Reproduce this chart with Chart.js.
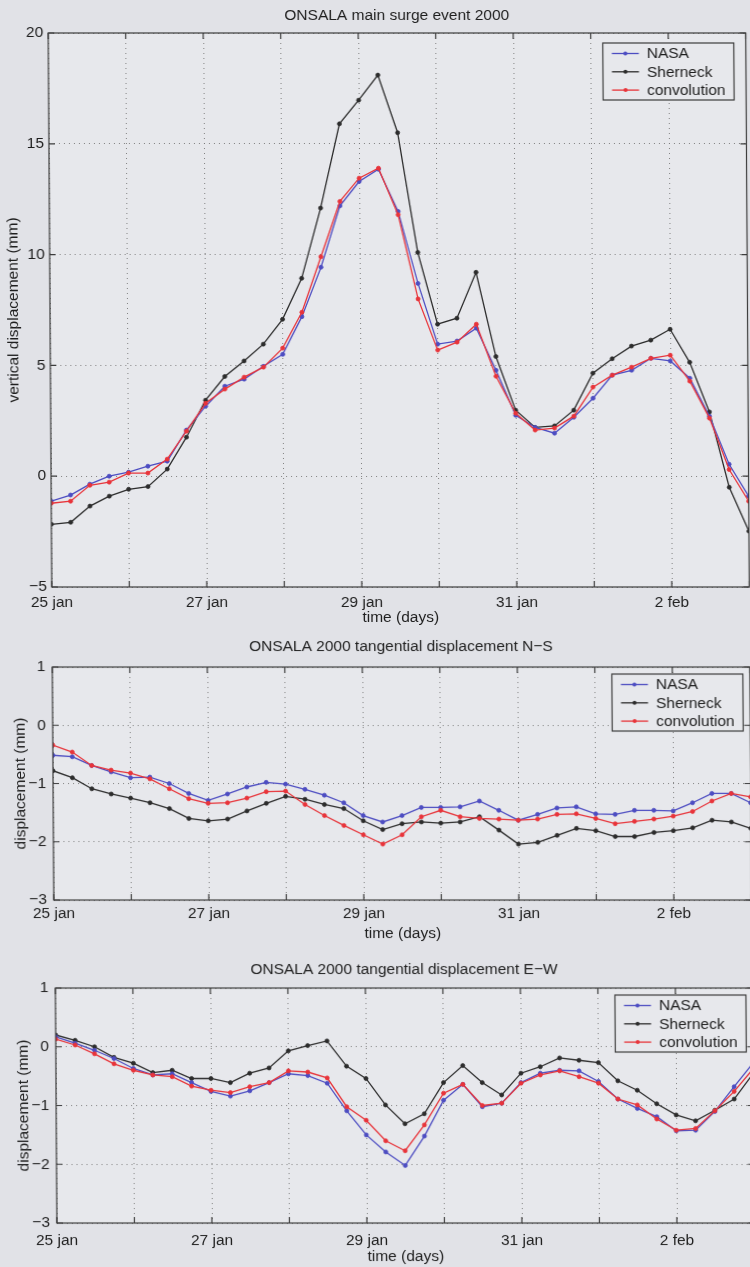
<!DOCTYPE html>
<html>
<head>
<meta charset="utf-8">
<script src="https://cdn.jsdelivr.net/npm/chart.js@4.4.1/dist/chart.umd.min.js"></script>
<style>
  html, body { margin: 0; padding: 0; width: 750px; height: 1267px; overflow: hidden; background: #e1e2e7; }
  #page { position: absolute; left: 0; top: 0; width: 760px; height: 1267px;
          transform: skewX(0.37deg); transform-origin: 0 310px; }
  #page canvas { position: absolute; left: 0; }
</style>
</head>
<body>
<div id="page">
  <canvas id="vertical" width="760" height="640" style="top:0px"></canvas>
  <canvas id="northSouth" width="760" height="320" style="top:630px"></canvas>
  <canvas id="eastWest" width="760" height="317" style="top:950px"></canvas>
</div>
<script>
// ---- sampling times: days after 25 jan 2000, 00h, every 6 hours ----
const sampleDays = [0, 0.25, 0.5, 0.75, 1, 1.25, 1.5, 1.75, 2, 2.25, 2.5, 2.75, 3, 3.25, 3.5, 3.75,
  4, 4.25, 4.5, 4.75, 5, 5.25, 5.5, 5.75, 6, 6.25, 6.5, 6.75, 7, 7.25, 7.5, 7.75, 8, 8.25, 8.5, 8.75, 9];

// ---- x tick labels (every second day) ----
const dayTickValues = [0, 2, 4, 6, 8];
const dayTickLabels = ['25 jan', '27 jan', '29 jan', '31 jan', '2 feb'];

const seriesNames = ['NASA', 'Sherneck', 'convolution'];

// ---- vertical displacement (mm) ----
const verticalNasa = [-1.13, -0.85, -0.36, 0.0, 0.18, 0.45, 0.68, 2.08, 3.16, 4.06, 4.38, 4.96, 5.5, 7.2, 9.43,
  12.2, 13.3, 13.85, 11.95, 8.7, 5.96, 6.1, 6.68, 4.78, 2.75, 2.2, 1.94, 2.66, 3.52, 4.56, 4.78, 5.32, 5.2,
  4.42, 2.7, 0.54, -0.9];
const verticalSherneck = [-2.17, -2.08, -1.35, -0.9, -0.59, -0.47, 0.32, 1.76, 3.43, 4.5, 5.2, 5.96, 7.08, 8.93,
  12.1, 15.9, 16.97, 18.1, 15.5, 10.1, 6.86, 7.13, 9.2, 5.4, 2.98, 2.2, 2.27, 2.98, 4.65, 5.3, 5.87, 6.14,
  6.63, 5.14, 2.9, -0.5, -2.48];
const verticalConvolution = [-1.22, -1.13, -0.41, -0.27, 0.14, 0.14, 0.77, 2.03, 3.29, 3.93, 4.47, 4.92, 5.78,
  7.4, 9.9, 12.4, 13.45, 13.9, 11.8, 8.0, 5.69, 6.05, 6.86, 4.51, 2.84, 2.08, 2.17, 2.71, 4.02, 4.56, 4.92,
  5.32, 5.46, 4.29, 2.62, 0.3, -1.13];
const verticalTicks = [-5, 0, 5, 10, 15, 20];

// ---- tangential displacement N-S (mm) ----
const nsNasa = [-0.515, -0.54, -0.69, -0.8, -0.9, -0.89, -1.0, -1.17, -1.29, -1.18, -1.06, -0.98, -1.01, -1.1,
  -1.2, -1.33, -1.55, -1.66, -1.55, -1.41, -1.41, -1.4, -1.3, -1.46, -1.63, -1.53, -1.42, -1.4, -1.52, -1.53,
  -1.46, -1.46, -1.47, -1.33, -1.17, -1.17, -1.33];
const nsSherneck = [-0.78, -0.9, -1.09, -1.18, -1.25, -1.33, -1.43, -1.6, -1.64, -1.61, -1.47, -1.34, -1.22,
  -1.27, -1.36, -1.43, -1.64, -1.79, -1.69, -1.66, -1.68, -1.66, -1.57, -1.8, -2.04, -2.01, -1.89, -1.77,
  -1.81, -1.91, -1.91, -1.84, -1.81, -1.76, -1.63, -1.66, -1.77];
const nsConvolution = [-0.34, -0.46, -0.69, -0.77, -0.82, -0.92, -1.09, -1.26, -1.34, -1.33, -1.25, -1.14,
  -1.13, -1.36, -1.55, -1.72, -1.88, -2.04, -1.88, -1.57, -1.46, -1.57, -1.6, -1.61, -1.63, -1.61, -1.53,
  -1.52, -1.6, -1.69, -1.65, -1.61, -1.56, -1.48, -1.3, -1.17, -1.23];

// ---- tangential displacement E-W (mm) ----
const ewNasa = [0.17, 0.06, -0.06, -0.2, -0.37, -0.48, -0.46, -0.61, -0.76, -0.84, -0.75, -0.61, -0.46, -0.49,
  -0.62, -1.09, -1.5, -1.79, -2.02, -1.52, -0.91, -0.64, -1.02, -0.96, -0.61, -0.45, -0.4, -0.41, -0.59,
  -0.89, -1.05, -1.19, -1.43, -1.42, -1.1, -0.68, -0.27];
const ewSherneck = [0.2, 0.11, 0.0, -0.18, -0.28, -0.44, -0.4, -0.54, -0.54, -0.61, -0.45, -0.36, -0.07, 0.02,
  0.1, -0.33, -0.54, -0.99, -1.31, -1.14, -0.61, -0.32, -0.61, -0.82, -0.45, -0.34, -0.19, -0.23, -0.27,
  -0.58, -0.74, -0.97, -1.16, -1.26, -1.08, -0.89, -0.45];
const ewConvolution = [0.13, 0.03, -0.12, -0.29, -0.4, -0.48, -0.51, -0.67, -0.74, -0.78, -0.68, -0.61, -0.41,
  -0.43, -0.53, -1.02, -1.25, -1.6, -1.77, -1.33, -0.79, -0.64, -1.0, -0.96, -0.62, -0.48, -0.41, -0.51,
  -0.62, -0.89, -0.99, -1.23, -1.42, -1.39, -1.09, -0.76, -0.37];
const tangentialTicks = [-3, -2, -1, 0, 1];

// ---- styling ----
const FONT_FAMILY = '"Liberation Sans", Arial, Helvetica, sans-serif';
const FONT_SIZE = 15.5;
const TEXT_COLOR = '#1e1e1e';
const AXIS_COLOR = '#3c3c3c';
const GRID_COLOR = 'rgba(110,110,110,0.85)';
const PLOT_BG = '#e7e8ec';
const SERIES_COLORS = ['#4d4dc2', '#2c2c2c', '#e8343a'];
const SERIES_ORDER = [1, 2, 0];   // convolution on top, Sherneck underneath
const TICK_LEN = 6;
const LEGEND_W = 131;
const LEGEND_H = 57;

Chart.defaults.font.family = FONT_FAMILY;
Chart.defaults.font.size = FONT_SIZE;
Chart.defaults.color = TEXT_COLOR;

// Frame, inward tick marks, title and boxed legend in the style of a MATLAB axes
const matlabAxes = {
  id: 'matlabAxes',
  beforeDraw(chart) {
    const { ctx, chartArea: a } = chart;
    ctx.save();
    ctx.fillStyle = PLOT_BG;
    ctx.fillRect(a.left, a.top, a.width, a.height);
    ctx.restore();
  },
  afterDraw(chart, args, o) {
    const { ctx, chartArea: a } = chart;
    const xs = chart.scales.x, ys = chart.scales.y;
    ctx.save();
    ctx.strokeStyle = AXIS_COLOR;
    ctx.lineWidth = 1.2;
    ctx.strokeRect(a.left, a.top, a.width, a.height);
    ctx.beginPath();
    xs.ticks.forEach(t => {
      const px = xs.getPixelForValue(t.value);
      ctx.moveTo(px, a.bottom); ctx.lineTo(px, a.bottom - TICK_LEN);
      ctx.moveTo(px, a.top); ctx.lineTo(px, a.top + TICK_LEN);
    });
    ys.ticks.forEach(t => {
      const py = ys.getPixelForValue(t.value);
      ctx.moveTo(a.left, py); ctx.lineTo(a.left + TICK_LEN, py);
      ctx.moveTo(a.right, py); ctx.lineTo(a.right - TICK_LEN, py);
    });
    ctx.stroke();

    // title
    ctx.fillStyle = TEXT_COLOR;
    ctx.font = FONT_SIZE + 'px ' + FONT_FAMILY;
    ctx.textAlign = 'center';
    ctx.textBaseline = 'middle';
    ctx.fillText(o.title, (a.left + a.right) / 2, a.top - o.titleGap);

    // legend
    const bx = a.right - o.legendRight - LEGEND_W;
    const by = a.top + o.legendTop;
    ctx.fillStyle = PLOT_BG;
    ctx.fillRect(bx, by, LEGEND_W, LEGEND_H);
    ctx.strokeStyle = AXIS_COLOR;
    ctx.lineWidth = 1.2;
    ctx.strokeRect(bx, by, LEGEND_W, LEGEND_H);
    ctx.textAlign = 'left';
    chart.data.datasets.forEach((ds, i) => {
      const ry = by + 10.5 + i * 18.3;
      ctx.strokeStyle = ds.borderColor;
      ctx.lineWidth = ds.borderWidth;
      ctx.beginPath();
      ctx.moveTo(bx + 9, ry); ctx.lineTo(bx + 36, ry);
      ctx.stroke();
      ctx.fillStyle = ds.borderColor;
      ctx.beginPath();
      ctx.arc(bx + 22.5, ry, 2, 0, Math.PI * 2);
      ctx.fill();
      ctx.fillStyle = TEXT_COLOR;
      ctx.fillText(ds.label, bx + 44, ry + 0.5);
    });
    ctx.restore();
  }
};

function seriesDatasets(values) {
  return values.map((vals, i) => ({
    label: seriesNames[i],
    data: vals.map((v, k) => ({ x: sampleDays[k], y: v })),
    borderColor: SERIES_COLORS[i],
    backgroundColor: SERIES_COLORS[i],
    pointBackgroundColor: SERIES_COLORS[i],
    pointBorderColor: SERIES_COLORS[i],
    borderWidth: 1.3,
    pointRadius: 2,
    pointBorderWidth: 0.8,
    tension: 0,
    order: SERIES_ORDER[i]
  }));
}

function minusLabel(v) {
  return v < 0 ? '\u2212' + Math.abs(v) : String(v);
}

function buildChart(id, spec) {
  const canvas = document.getElementById(id);
  const H = canvas.height, W = canvas.width;
  return new Chart(canvas, {
    type: 'line',
    data: { datasets: seriesDatasets(spec.series) },
    options: {
      responsive: false,
      animation: false,
      devicePixelRatio: 1,
      layout: { padding: { top: spec.plotTop, left: 0, right: W - spec.plotRight, bottom: 0 } },
      plugins: {
        legend: { display: false },
        tooltip: { enabled: false },
        title: { display: false },
        matlabAxes: {
          title: spec.title, titleGap: spec.titleGap,
          legendRight: spec.legendRight, legendTop: spec.legendTop
        }
      },
      scales: {
        x: {
          type: 'linear',
          min: sampleDays[0],
          max: sampleDays[sampleDays.length - 1],
          afterBuildTicks: s => { s.ticks = sampleDays.filter(d => Number.isInteger(d)).map(v => ({ value: v })); },
          afterFit: s => { s.height = H - spec.plotBottom; },
          grid: { color: GRID_COLOR, lineWidth: 1, drawTicks: false },
          border: { display: false, dash: [1, 4] },
          ticks: {
            autoSkip: false, maxRotation: 0, padding: spec.xTickPad, color: TEXT_COLOR,
            callback: v => { const k = dayTickValues.indexOf(v); return k >= 0 ? dayTickLabels[k] : ''; }
          },
          title: {
            display: true, text: 'time (days)', color: TEXT_COLOR,
            padding: { top: 0, bottom: spec.xTitlePad }
          }
        },
        y: {
          type: 'linear',
          min: spec.yTicks[0],
          max: spec.yTicks[spec.yTicks.length - 1],
          afterBuildTicks: s => { s.ticks = spec.yTicks.map(v => ({ value: v })); },
          afterFit: s => { s.width = spec.plotLeft; },
          grid: { color: GRID_COLOR, lineWidth: 1, drawTicks: false },
          border: { display: false, dash: [1, 4] },
          ticks: { padding: spec.yTickPad, color: TEXT_COLOR, callback: minusLabel },
          title: {
            display: true, text: spec.yTitle, color: TEXT_COLOR,
            padding: { top: spec.yTitlePad, bottom: 0 }
          }
        }
      }
    },
    plugins: [matlabAxes]
  });
}

buildChart('vertical', {
  series: [verticalNasa, verticalSherneck, verticalConvolution],
  yTicks: verticalTicks,
  title: 'ONSALA main surge event 2000',
  yTitle: 'vertical displacement (mm)',
  plotTop: 33, plotBottom: 587, plotLeft: 50, plotRight: 747.5,
  titleGap: 17.5, legendRight: 12, legendTop: 10,
  xTickPad: 6.5, xTitlePad: 12.5, yTickPad: 5, yTitlePad: 4.7
});

buildChart('northSouth', {
  series: [nsNasa, nsSherneck, nsConvolution],
  yTicks: tangentialTicks,
  title: 'ONSALA 2000 tangential displacement N\u2212S',
  yTitle: 'displacement (mm)',
  plotTop: 37, plotBottom: 270, plotLeft: 50, plotRight: 747.5,
  titleGap: 20, legendRight: 7, legendTop: 7,
  xTickPad: 4.5, xTitlePad: 7, yTickPad: 7, yTitlePad: 8.2
});

buildChart('eastWest', {
  series: [ewNasa, ewSherneck, ewConvolution],
  yTicks: tangentialTicks,
  title: 'ONSALA 2000 tangential displacement E\u2212W',
  yTitle: 'displacement (mm)',
  plotTop: 38, plotBottom: 273, plotLeft: 51, plotRight: 748.5,
  titleGap: 18.5, legendRight: 7, legendTop: 7,
  xTickPad: 8, xTitlePad: 0.5, yTickPad: 7, yTitlePad: 9.4
});
</script>
</body>
</html>
